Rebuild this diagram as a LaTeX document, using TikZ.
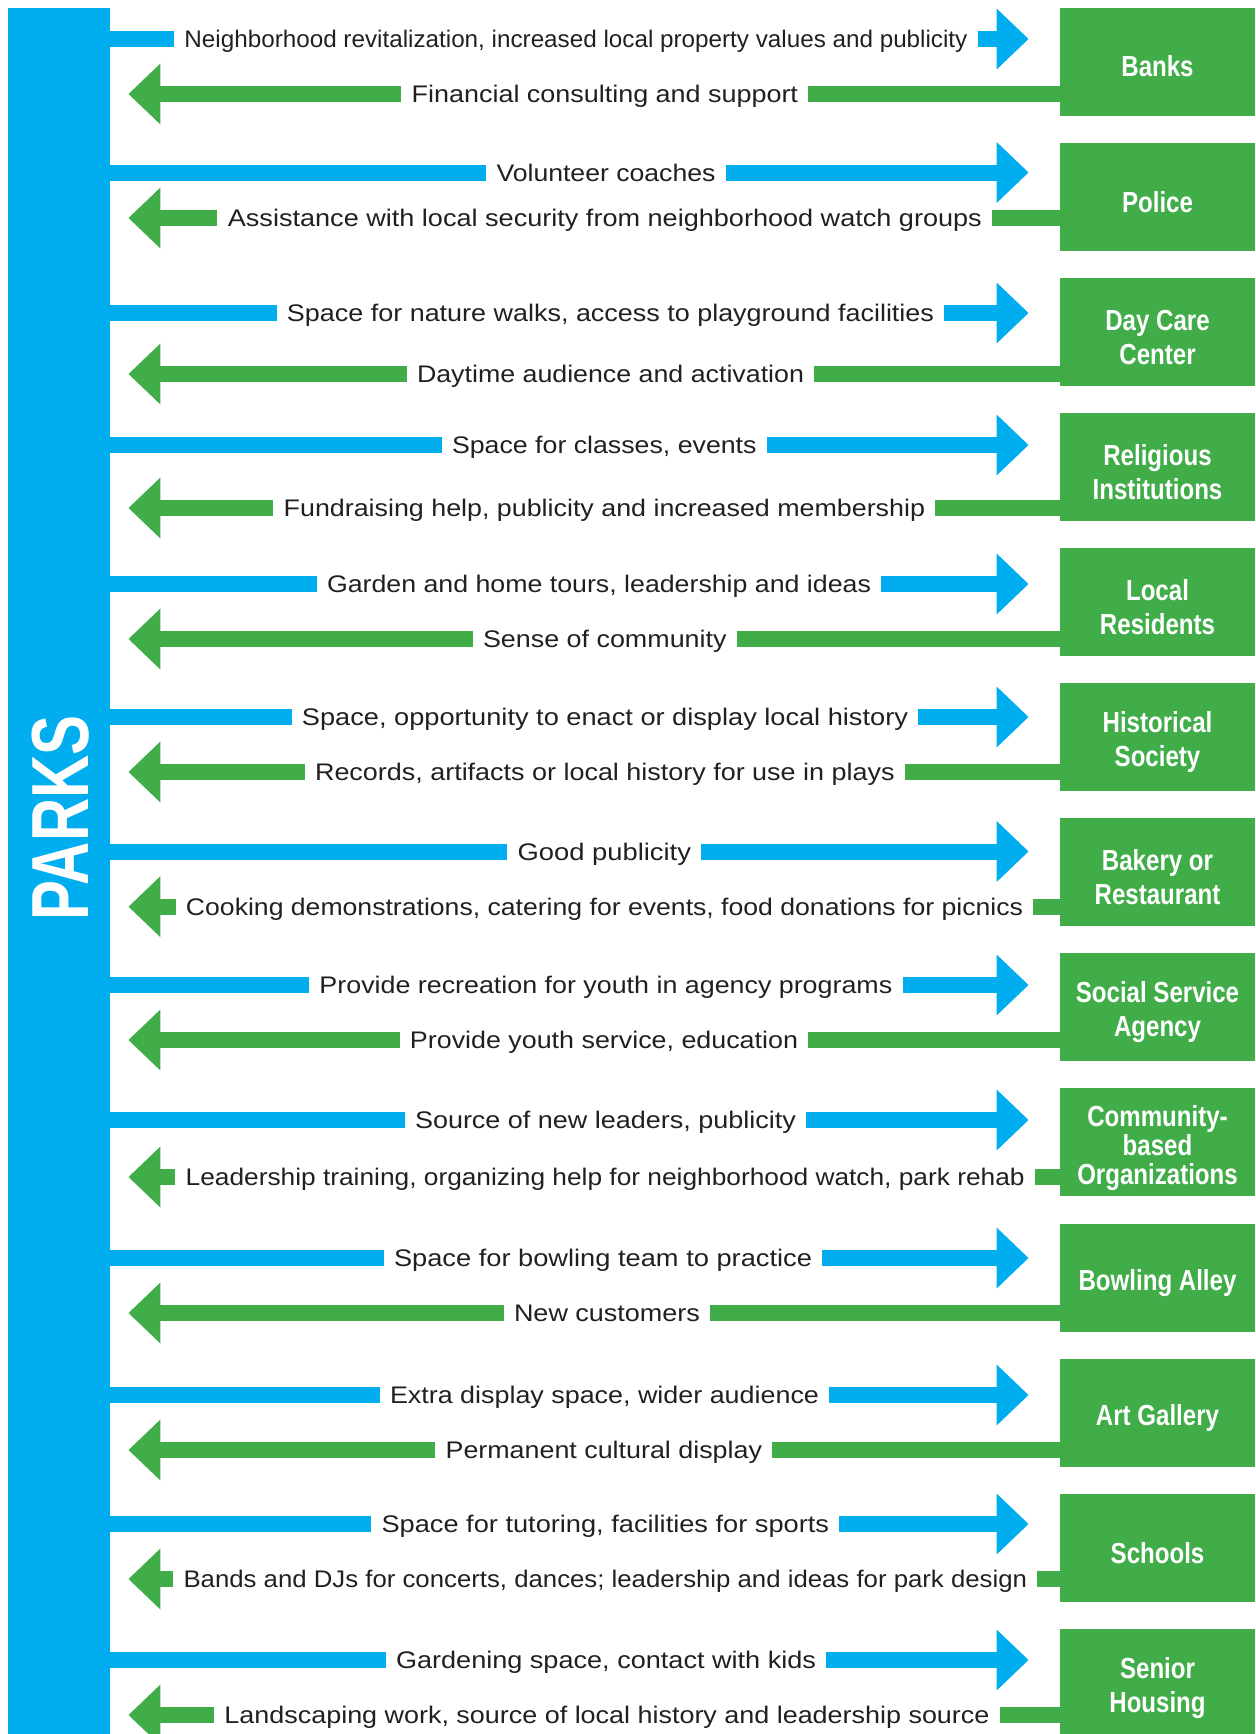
\documentclass[tikz,border=0pt]{standalone}
\usepackage{fontspec}
\usepackage{graphicx}
\setmainfont{Liberation Sans}
\newfontfamily\labelfont[FakeStretch=0.83]{Liberation Sans}
\newfontfamily\parksfont[FakeStretch=0.74]{Liberation Sans}
\usetikzlibrary{arrows.meta}
\definecolor{parkblue}{RGB}{0,174,239}
\definecolor{partgreen}{RGB}{65,173,73}
\definecolor{inkgray}{RGB}{35,31,32}
\newlength{\pxu}
\setlength{\pxu}{0.5pt}
\newcommand{\fitw}[2]{\resizebox{#1\pxu}{\height}{#2}}

\begin{document}
\begin{tikzpicture}[x=0.5pt,y=-0.5pt,
    partner/.style={fill=partgreen,inner sep=0pt,minimum width=97.5pt,minimum height=54pt},
    boxtext/.style={text=white,inner sep=0pt,yshift=-2.6pt,align=center,font=\labelfont\bfseries\fontsize{14.5pt}{17pt}\selectfont},
    gift/.style={text=inkgray,inner xsep=5pt,inner ysep=0pt,text height=8.6pt,text depth=0pt,font=\fontsize{12pt}{14pt}\selectfont},
    give/.style={draw=parkblue,line width=8pt},
    get/.style={draw=partgreen,line width=8pt},
    bigtip/.style={-{Triangle[length=16pt,width=29.5pt]}}]
    \useasboundingbox (0,0) rectangle (1255,1734);
    % the parks bar
    \node[fill=parkblue,inner sep=0pt,minimum width=51pt,minimum height=863pt] (parks) at (59,871) {};
    \node[rotate=90,anchor=base,text=white,inner sep=0pt,font=\parksfont\bfseries\fontsize{40.5pt}{40.5pt}\selectfont] (parkslabel) at (88,818) {PARKS};
    % partners
    \node[partner,label={[boxtext,yshift=0.6pt]center:Banks}] (banks) at (1157.5,62) {};
    \node[partner,label={[boxtext]center:Police}] (police) at (1157.5,197) {};
    \node[partner,label={[boxtext]center:{Day Care\\Center}}] (daycare) at (1157.5,332) {};
    \node[partner,label={[boxtext]center:{Religious\\Institutions}}] (religious) at (1157.5,467) {};
    \node[partner,label={[boxtext]center:{Local\\Residents}}] (residents) at (1157.5,602) {};
    \node[partner,label={[boxtext]center:{Historical\\Society}}] (historical) at (1157.5,737) {};
    \node[partner,label={[boxtext]center:{Bakery or\\Restaurant}}] (bakery) at (1157.5,872) {};
    \node[partner,label={[boxtext]center:{Social Service\\Agency}}] (social) at (1157.5,1007) {};
    \node[partner,label={[boxtext,yshift=-0.5pt,font=\labelfont\bfseries\fontsize{14.5pt}{14.5pt}\selectfont]center:{Community-\\based\\Organizations}}] (community) at (1157.5,1142) {};
    \node[partner,label={[boxtext]center:Bowling Alley}] (bowling) at (1157.5,1277.5) {};
    \node[partner,label={[boxtext]center:Art Gallery}] (gallery) at (1157.5,1412.5) {};
    \node[partner,label={[boxtext]center:Schools}] (schools) at (1157.5,1547.5) {};
    \node[partner,label={[boxtext]center:{Senior\\Housing}}] (seniors) at (1157.5,1682.6) {};
    % what the parks give
    \node[gift] (tobanks) at (576,39) {\fitw{783}{Neighborhood revitalization, increased local property values and publicity}};
    \node[gift] (topolice) at (606,172.5) {\fitw{219}{Volunteer coaches}};
    \node[gift] (todaycare) at (610.5,313) {\fitw{647}{Space for nature walks, access to playground facilities}};
    \node[gift] (toreligious) at (604.3,445) {\fitw{304.5}{Space for classes, events}};
    \node[gift] (toresidents) at (599,584) {\fitw{544}{Garden and home tours, leadership and ideas}};
    \node[gift] (tohistorical) at (605,717) {\fitw{606}{Space, opportunity to enact or display local history}};
    \node[gift] (tobakery) at (604.3,851.5) {\fitw{173.5}{Good publicity}};
    \node[gift] (tosocial) at (605.9,985) {\fitw{572.8}{Provide recreation for youth in agency programs}};
    \node[gift] (tocommunity) at (605.5,1120) {\fitw{381}{Source of new leaders, publicity}};
    \node[gift] (tobowling) at (603,1258) {\fitw{418}{Space for bowling team to practice}};
    \node[gift] (togallery) at (604.5,1395) {\fitw{429}{Extra display space, wider audience}};
    \node[gift] (toschools) at (605.3,1524) {\fitw{447.5}{Space for tutoring, facilities for sports}};
    \node[gift] (toseniors) at (606,1660) {\fitw{420}{Gardening space, contact with kids}};
    % what the parks get
    \node[gift] (frombanks) at (604.9,94) {\fitw{386.3}{Financial consulting and support}};
    \node[gift] (frompolice) at (604.9,218) {\fitw{754}{Assistance with local security from neighborhood watch groups}};
    \node[gift] (fromdaycare) at (610.5,374) {\fitw{387}{Daytime audience and activation}};
    \node[gift] (fromreligious) at (604.4,508) {\fitw{641.3}{Fundraising help, publicity and increased membership}};
    \node[gift] (fromresidents) at (604.8,639) {\fitw{243.5}{Sense of community}};
    \node[gift] (fromhistorical) at (604.8,772) {\fitw{579.5}{Records, artifacts or local history for use in plays}};
    \node[gift] (frombakery) at (604.5,906.7) {\fitw{837}{Cooking demonstrations, catering for events, food donations for picnics}};
    \node[gift] (fromsocial) at (604,1040) {\fitw{388}{Provide youth service, education}};
    \node[gift] (fromcommunity) at (605.2,1177) {\fitw{839}{Leadership training, organizing help for neighborhood watch, park rehab}};
    \node[gift] (frombowling) at (607,1313) {\fitw{186}{New customers}};
    \node[gift] (fromgallery) at (603.8,1450) {\fitw{316.4}{Permanent cultural display}};
    \node[gift] (fromschools) at (605.3,1579) {\fitw{843.5}{Bands and DJs for concerts, dances; leadership and ideas for park design}};
    \node[gift] (fromseniors) at (607,1715) {\fitw{765}{Landscaping work, source of local history and leadership source}};
    % blue arrows, parks to partners
    \draw[give] (parks.east |- tobanks) -- (tobanks.west);
    \draw[give,bigtip,shorten >=15.5pt] (tobanks.east) -- (banks.west |- tobanks);
    \draw[give] (parks.east |- topolice) -- (topolice.west);
    \draw[give,bigtip,shorten >=15.5pt] (topolice.east) -- (police.west |- topolice);
    \draw[give] (parks.east |- todaycare) -- (todaycare.west);
    \draw[give,bigtip,shorten >=15.5pt] (todaycare.east) -- (daycare.west |- todaycare);
    \draw[give] (parks.east |- toreligious) -- (toreligious.west);
    \draw[give,bigtip,shorten >=15.5pt] (toreligious.east) -- (religious.west |- toreligious);
    \draw[give] (parks.east |- toresidents) -- (toresidents.west);
    \draw[give,bigtip,shorten >=15.5pt] (toresidents.east) -- (residents.west |- toresidents);
    \draw[give] (parks.east |- tohistorical) -- (tohistorical.west);
    \draw[give,bigtip,shorten >=15.5pt] (tohistorical.east) -- (historical.west |- tohistorical);
    \draw[give] (parks.east |- tobakery) -- (tobakery.west);
    \draw[give,bigtip,shorten >=15.5pt] (tobakery.east) -- (bakery.west |- tobakery);
    \draw[give] (parks.east |- tosocial) -- (tosocial.west);
    \draw[give,bigtip,shorten >=15.5pt] (tosocial.east) -- (social.west |- tosocial);
    \draw[give] (parks.east |- tocommunity) -- (tocommunity.west);
    \draw[give,bigtip,shorten >=15.5pt] (tocommunity.east) -- (community.west |- tocommunity);
    \draw[give] (parks.east |- tobowling) -- (tobowling.west);
    \draw[give,bigtip,shorten >=15.5pt] (tobowling.east) -- (bowling.west |- tobowling);
    \draw[give] (parks.east |- togallery) -- (togallery.west);
    \draw[give,bigtip,shorten >=15.5pt] (togallery.east) -- (gallery.west |- togallery);
    \draw[give] (parks.east |- toschools) -- (toschools.west);
    \draw[give,bigtip,shorten >=15.5pt] (toschools.east) -- (schools.west |- toschools);
    \draw[give] (parks.east |- toseniors) -- (toseniors.west);
    \draw[give,bigtip,shorten >=15.5pt] (toseniors.east) -- (seniors.west |- toseniors);
    % green arrows, partners to parks
    \draw[get] (banks.west |- frombanks) -- (frombanks.east);
    \draw[get,bigtip,shorten >=9pt] (frombanks.west) -- (parks.east |- frombanks);
    \draw[get] (police.west |- frompolice) -- (frompolice.east);
    \draw[get,bigtip,shorten >=9pt] (frompolice.west) -- (parks.east |- frompolice);
    \draw[get] (daycare.west |- fromdaycare) -- (fromdaycare.east);
    \draw[get,bigtip,shorten >=9pt] (fromdaycare.west) -- (parks.east |- fromdaycare);
    \draw[get] (religious.west |- fromreligious) -- (fromreligious.east);
    \draw[get,bigtip,shorten >=9pt] (fromreligious.west) -- (parks.east |- fromreligious);
    \draw[get] (residents.west |- fromresidents) -- (fromresidents.east);
    \draw[get,bigtip,shorten >=9pt] (fromresidents.west) -- (parks.east |- fromresidents);
    \draw[get] (historical.west |- fromhistorical) -- (fromhistorical.east);
    \draw[get,bigtip,shorten >=9pt] (fromhistorical.west) -- (parks.east |- fromhistorical);
    \draw[get] (bakery.west |- frombakery) -- (frombakery.east);
    \draw[get,bigtip,shorten >=9pt] (frombakery.west) -- (parks.east |- frombakery);
    \draw[get] (social.west |- fromsocial) -- (fromsocial.east);
    \draw[get,bigtip,shorten >=9pt] (fromsocial.west) -- (parks.east |- fromsocial);
    \draw[get] (community.west |- fromcommunity) -- (fromcommunity.east);
    \draw[get,bigtip,shorten >=9pt] (fromcommunity.west) -- (parks.east |- fromcommunity);
    \draw[get] (bowling.west |- frombowling) -- (frombowling.east);
    \draw[get,bigtip,shorten >=9pt] (frombowling.west) -- (parks.east |- frombowling);
    \draw[get] (gallery.west |- fromgallery) -- (fromgallery.east);
    \draw[get,bigtip,shorten >=9pt] (fromgallery.west) -- (parks.east |- fromgallery);
    \draw[get] (schools.west |- fromschools) -- (fromschools.east);
    \draw[get,bigtip,shorten >=9pt] (fromschools.west) -- (parks.east |- fromschools);
    \draw[get] (seniors.west |- fromseniors) -- (fromseniors.east);
    \draw[get,bigtip,shorten >=9pt] (fromseniors.west) -- (parks.east |- fromseniors);
\end{tikzpicture}
\end{document}
